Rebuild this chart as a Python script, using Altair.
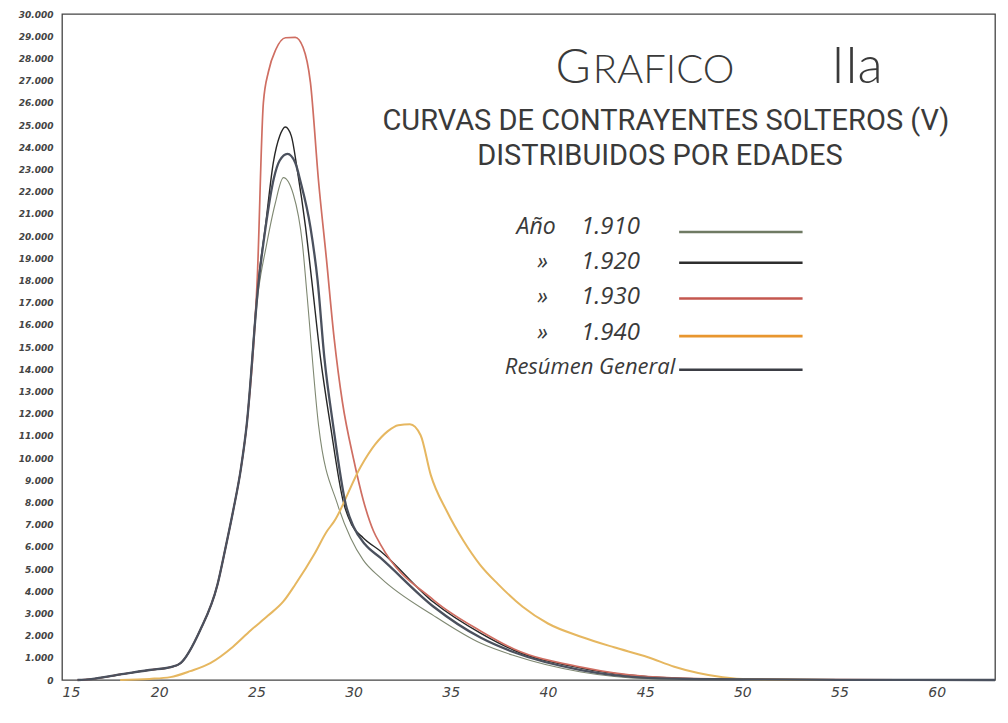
import altair as alt
import pandas as pd

# ---------------- data ----------------
series_names = ["Año 1.910", "1.920", "1.930", "1.940", "Resúmen General"]

ages_1910 = [15.8, 16.5, 18.0, 19.5, 20.6, 21.1, 22.1, 23.0, 23.4, 23.8, 24.2, 24.5, 25.1, 25.5, 25.96,
             26.39, 26.9, 27.37, 27.6, 28.2, 29.18, 29.85, 30.5, 31.39, 34.12, 36.55, 38.25, 41.7, 45.15,
             48.5, 55.0, 63.0]
vals_1910 = [0, 40, 250, 450, 580, 760, 2230, 4300, 5900, 7600, 9500, 11470, 17500, 19500, 21430,
             22630, 21880, 19640, 17410, 11470, 7900, 6400, 5400, 4600, 2900, 1650, 1100, 360, 60,
             20, 5, 0]

ages_1920 = [15.8, 16.5, 18.0, 19.5, 20.6, 21.1, 22.1, 23.0, 23.4, 23.8, 24.2, 24.5, 25.1, 25.46, 25.88,
             26.2, 26.49, 26.8, 27.1, 27.53, 27.85, 28.3, 28.81, 29.48, 29.9, 30.5, 31.39, 34.12, 36.55,
             38.25, 41.7, 42.7, 45.15, 48.5, 55.0, 63.0]
vals_1920 = [0, 40, 250, 450, 580, 760, 2230, 4300, 5900, 7600, 9500, 11470, 17990, 20400, 23350,
             24500, 24910, 24500, 23000, 20400, 17990, 14500, 11470, 8000, 7000, 6400, 5800, 3500, 2100,
             1340, 540, 380, 150, 50, 15, 0]

ages_1930 = [15.8, 16.5, 18.0, 19.5, 20.6, 21.1, 22.1, 23.0, 23.4, 23.8, 24.2, 24.5, 25.05, 25.36, 25.62,
             26.0, 26.5, 27.0, 27.4, 27.78, 28.2, 28.6, 29.0, 29.43, 30.0, 30.5, 31.03, 31.39, 34.12,
             36.55, 38.25, 41.7, 45.15, 48.5, 55.0, 63.0]
vals_1930 = [0, 40, 250, 450, 580, 760, 2230, 4300, 5900, 7600, 9500, 11470, 18170, 26000, 27400,
             28400, 28930, 28950, 28500, 26920, 22455, 19000, 15400, 12500, 9955, 8100, 6700, 6100, 3600,
             2200, 1400, 580, 150, 50, 15, 0]

ages_1940 = [17.99, 19.5, 20.57, 21.6, 22.63, 23.8, 24.7, 25.6, 26.4, 27.0, 28.0, 28.63, 29.0, 30.36,
             31.1, 31.75, 32.3, 32.9, 33.45, 33.97, 34.8, 35.67, 36.5, 37.42, 38.7, 40.0, 41.7, 43.4,
             45.15, 46.5, 47.73, 49.0, 50.31, 55.0, 63.0]
vals_1940 = [0, 50, 130, 400, 760, 1500, 2230, 2900, 3550, 4300, 5700, 6700, 7143, 9600,
             10600, 11200, 11480, 11520, 11027, 9241, 7600, 6250, 5200, 4330, 3300, 2545, 1950, 1473,
             1027, 600, 313, 120, 30, 5, 0]

ages_resumen = [15.8, 16.5, 18.0, 19.5, 20.6, 21.1, 22.1, 23.0, 23.4, 23.8, 24.2, 24.5, 25.1, 25.46,
                25.9, 26.2, 26.6, 27.0, 27.27, 27.78, 28.15, 28.5, 28.95, 29.6, 30.0, 30.6, 31.39,
                34.12, 36.55, 38.25, 41.7, 45.15, 48.5, 55.0, 63.0]
vals_resumen = [0, 40, 250, 450, 580, 760, 2230, 4300, 5900, 7600, 9500, 11470, 17800, 20300,
                22600, 23400, 23700, 23300, 22455, 20400, 17990, 14500, 11470, 7900, 6900, 6100, 5500,
                3300, 1900, 1250, 450, 100, 40, 10, 0]

x_ticks = [15, 20, 25, 30, 35, 40, 45, 50, 55, 60]
y_ticks = list(range(0, 30001, 1000))
legend_prefixes = ["Año", "»", "»", "»"]
legend_years = ["1.910", "1.920", "1.930", "1.940"]
legend_last = "Resúmen General"
title_parts = ["G", "RAFICO", "IIa"]
subtitle_lines = ["CURVAS DE CONTRAYENTES SOLTEROS (V)", "DISTRIBUIDOS POR EDADES"]

# ---------------- styles ----------------
curve_colors = ["#7f8872", "#262626", "#cf6e62", "#e6b760", "#4b515e"]
curve_widths = [1.1, 2.3, 1.1, 1.5, 1.6]
legend_colors = ["#6f7a63", "#2e2e2e", "#c4574f", "#e8962f", "#3b3d44"]

rows = []
for name, ages, vals in zip(series_names,
                            [ages_1910, ages_1920, ages_1930, ages_1940, ages_resumen],
                            [vals_1910, vals_1920, vals_1930, vals_1940, vals_resumen]):
    for a, v in zip(ages, vals):
        rows.append({"serie": name, "edad": a, "valor": v})
curves_df = pd.DataFrame(rows)

xs = alt.Scale(domain=[15, 63], nice=False, zero=False)
ys = alt.Scale(domain=[0, 30000], nice=False)
x_axis = alt.Axis(values=x_ticks, grid=False, ticks=False, domain=False, title=None,
                  labelFont="DejaVu Sans", labelFontStyle="italic", labelFontSize=14,
                  labelColor="#444", labelPadding=5)
y_axis = alt.Axis(values=y_ticks, grid=False, ticks=False, domain=False, title=None,
                  labelExpr="replace(format(datum.value, ','), ',', '.')",
                  labelFont="DejaVu Sans", labelFontStyle="italic", labelFontWeight="bold",
                  labelFontSize=9, labelColor="#444", labelPadding=9)


def X(field):
    return alt.X(field, scale=xs, axis=x_axis, title=None)


def Y(field):
    return alt.Y(field, scale=ys, axis=y_axis, title=None)


curves = alt.Chart(curves_df).mark_line(interpolate="monotone").encode(
    x=X("edad:Q"),
    y=Y("valor:Q"),
    color=alt.Color("serie:N", scale=alt.Scale(domain=series_names, range=curve_colors), legend=None),
    strokeWidth=alt.StrokeWidth("serie:N", scale=alt.Scale(domain=series_names, range=curve_widths),
                                legend=None),
    detail="serie:N",
)

# ---------------- legend drawn inside the plot ----------------
leg_line_y = [20179, 18795, 17188, 15491, 13973]
leg_text_y = [20089, 18527, 16920, 15313, 13795]
layers = [curves]
for i, name in enumerate(series_names):
    ldf = pd.DataFrame({"x1": [46.75], "x2": [53.1], "y": [leg_line_y[i]]})
    layers.append(
        alt.Chart(ldf).mark_rule(color=legend_colors[i], strokeWidth=2.6).encode(
            x=X("x1:Q"), x2="x2:Q", y=Y("y:Q"))
    )


def text_layer(df, align, font, size, style="normal", weight="normal"):
    return alt.Chart(df).mark_text(align=align, baseline="alphabetic", font=font, fontStyle=style,
                                   fontWeight=weight, fontSize=size, color="#3a3a3a").encode(
        x=X("x:Q"), y=Y("y:Q"), text="t:N")


layers.append(text_layer(pd.DataFrame({"x": [40.4, 40.0, 40.0, 40.0], "y": leg_text_y[:4],
                                       "t": legend_prefixes}), "right", "Open Sans", 23, "italic"))
layers.append(text_layer(pd.DataFrame({"x": [44.73] * 4, "y": leg_text_y[:4], "t": legend_years}),
                         "right", "Open Sans", 24, "italic"))
layers.append(text_layer(pd.DataFrame({"x": [46.55], "y": [leg_text_y[4]], "t": [legend_last]}),
                         "right", "Open Sans", 22, "italic"))

# ---------------- title ----------------
layers.append(text_layer(pd.DataFrame({"x": [42.2], "y": [26875], "t": [title_parts[0]]}),
                         "right", "Lato", 48, weight=300))
layers.append(text_layer(pd.DataFrame({"x": [42.3], "y": [26875], "t": [title_parts[1]]}),
                         "left", "Lato", 40, weight=300))
layers.append(text_layer(pd.DataFrame({"x": [55.9], "y": [26875], "t": [title_parts[2]]}),
                         "center", "Lato", 52, weight=300))
layers.append(text_layer(pd.DataFrame({"x": [46.07, 45.76], "y": [24777, 23214], "t": subtitle_lines}),
                         "center", "Roboto", 29))

chart = alt.layer(*layers).properties(
    width=933, height=666,
    padding={"left": 54, "top": 6, "right": 4, "bottom": 28},
    autosize=alt.AutoSizeParams(type="none"),
    background="white",
).configure_view(stroke="#444", strokeWidth=1.3)

chart.save("out.html", embed_options={"renderer": "svg", "actions": False})
